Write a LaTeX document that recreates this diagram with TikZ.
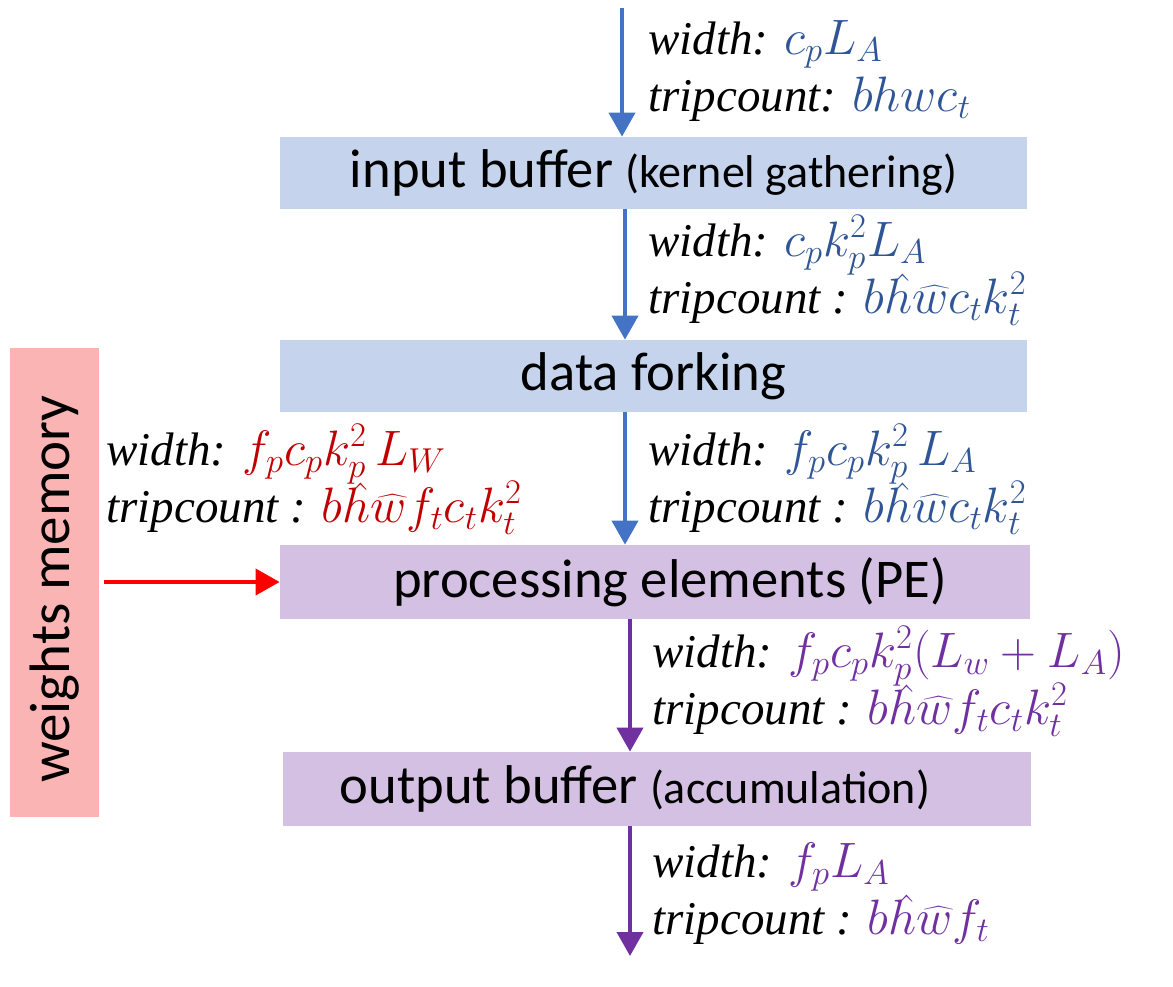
\documentclass[tikz,border=0pt]{standalone}
\usepackage{fontspec}
\setmainfont{Liberation Serif}
\newfontfamily\boxfont{Carlito}
\usetikzlibrary{arrows.meta}
\definecolor{boxblue}{HTML}{C5D3EC}
\definecolor{boxpurple}{HTML}{D4C0E3}
\definecolor{memred}{HTML}{FBB4B4}
\definecolor{arrblue}{HTML}{4472C4}
\definecolor{txtblue}{HTML}{2F5597}
\definecolor{arrpurple}{HTML}{7030A0}
\definecolor{txtpurple}{HTML}{7030A0}
\definecolor{txtred}{HTML}{C00000}
\definecolor{arrred}{HTML}{FF0000}
\tikzset{
  stagebox/.style={inner sep=0pt, minimum height=36pt, font=\boxfont\fontsize{27.3}{30}\selectfont, text=black},
  flow/.style={line width=2pt, -{Triangle[width=13pt,length=12pt]}},
  lbl/.style={anchor=base west, inner sep=0pt, font=\fontsize{23.5}{28}\selectfont}
}
\newcommand{\smallpart}[1]{{\fontsize{23}{26}\selectfont #1}}
\newcommand{\mth}[2]{\textcolor{#1}{\fontsize{25}{28}\selectfont$#2$}}
\newcommand{\hath}{\mbox{\ooalign{$h$\cr\hidewidth\kern0.16em\raisebox{0.1em}{$\hat{\hphantom{h}}$}\hidewidth\cr}}}
\newcommand{\hatw}{\widehat{w}}
\begin{document}
\begin{tikzpicture}[x=0.5pt,y=-0.5pt]
\useasboundingbox (0,0) rectangle (1173,986);
\fill[white] (0,0) rectangle (1173,986);

% boxes
\node[stagebox, fill=boxblue, minimum width=373.5pt] (ib) at (653.5,173) {input buffer \smallpart{(kernel gathering)}};
\node[stagebox, fill=boxblue, minimum width=373.5pt] (df) at (653.5,376) {data forking};
\node[stagebox, fill=boxpurple, minimum width=375pt, minimum height=37pt] (pe) at (655,582) {};
\node[stagebox] (pet) at (670,582) {processing elements (PE)};
\node[stagebox, fill=boxpurple, minimum width=374pt, minimum height=37pt] (ob) at (657,789) {};
\node[stagebox] (obt) at (635,789) {output buffer \smallpart{(accumulation)}};
\node[stagebox, fill=memred, minimum width=44.5pt, minimum height=234.5pt] (wm) at (54.5,582.5) {};
\node[font=\boxfont\fontsize{28.5}{30}\selectfont, rotate=90, inner sep=0pt] (wmt) at (54.5,589) {weights memory};

% connectors
\coordinate (top) at (622,8);
\coordinate (bot) at (630,956);
\draw[flow, arrblue] (top) -- (top |- ib.north);
\draw[flow, arrblue] (ib.south -| 625,0) -- (df.north -| 625,0);
\draw[flow, arrblue] (df.south -| 625,0) -- (pe.north -| 625,0);
\draw[flow, arrpurple] (pe.south -| 630,0) -- (ob.north -| 630,0);
\draw[flow, arrpurple] (ob.south -| bot) -- (bot);
\draw[flow, arrred] (wm.east |- pe.west) ++(5,0) coordinate (rs) (rs) -- (pe.west);

% labels
\node[lbl] (l1a) at (648,54) {\textit{width:} \mth{txtblue}{c_pL_A}};
\node[lbl] (l1b) at (648,111) {\textit{tripcount:} \mth{txtblue}{bhwc_t}};
\node[lbl] (l2a) at (648,256) {\textit{width:} \mth{txtblue}{c_pk_p^2L_A}};
\node[lbl] (l2b) at (648,313) {\textit{tripcount :} \mth{txtblue}{b\hath\hatw c_tk_t^2}};
\node[lbl] (l3a) at (648,465) {\textit{width:} \mth{txtblue}{f_pc_pk_p^2\,L_A}};
\node[lbl] (l3b) at (648,522) {\textit{tripcount :} \mth{txtblue}{b\hath\hatw c_tk_t^2}};
\node[lbl] (l4a) at (106,465) {\textit{width:} \mth{txtred}{f_pc_pk_p^2\,L_W}};
\node[lbl] (l4b) at (106,522) {\textit{tripcount :} \mth{txtred}{b\hath\hatw f_tc_tk_t^2}};
\node[lbl] (l5a) at (652,667) {\textit{width:} \mth{txtpurple}{f_pc_pk_p^2(L_w+L_A)}};
\node[lbl] (l5b) at (652,724) {\textit{tripcount :} \mth{txtpurple}{b\hath\hatw f_tc_tk_t^2}};
\node[lbl] (l6a) at (652,877) {\textit{width:} \mth{txtpurple}{f_pL_A}};
\node[lbl] (l6b) at (652,934) {\textit{tripcount :} \mth{txtpurple}{b\hath\hatw f_t}};
\end{tikzpicture}
\end{document}
